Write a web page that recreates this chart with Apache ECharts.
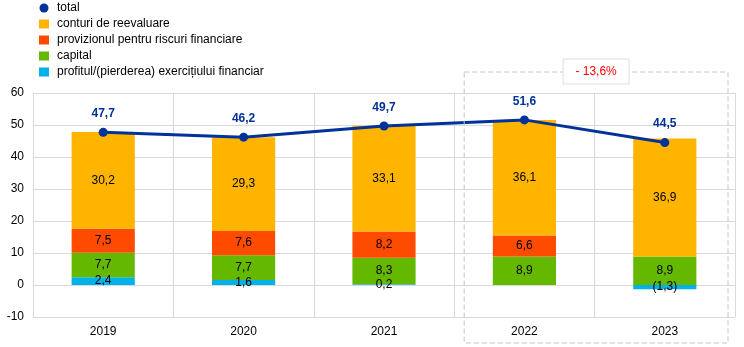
<!DOCTYPE html>
<html>
<head>
<meta charset="utf-8">
<script src="https://cdn.jsdelivr.net/npm/echarts@6/dist/echarts.min.js"></script>
<style>
  html, body { margin: 0; padding: 0; background: #fff; }
  #chart { width: 744px; height: 347px; }
</style>
</head>
<body>
<div id="chart"></div>
<script>
// Categories and series values (EUR billions)
const years = ['2019', '2020', '2021', '2022', '2023'];
const total = [47.7, 46.2, 49.7, 51.6, 44.5];
const revaluation = [30.2, 29.3, 33.1, 36.1, 36.9];
const provisions = [7.5, 7.6, 8.2, 6.6, null];
const capital = [7.7, 7.7, 8.3, 8.9, 8.9];
const profit = [2.4, 1.6, 0.2, null, -1.3];
const changeNote = '- 13,6%';

const FONT = 'Liberation Sans, Arial, sans-serif';

function fmt(v) {
  if (v === null || v === undefined) return '';
  const s = Math.abs(v).toFixed(1).replace('.', ',');
  return v < 0 ? '(' + s + ')' : s;
}

const barLabel = {
  show: true,
  position: 'inside',
  color: '#000',
  fontFamily: FONT,
  fontSize: 12,
  formatter: p => fmt(p.value)
};

function barSeries(name, data, color) {
  return {
    name: name,
    type: 'bar',
    stack: 'total',
    data: data,
    barWidth: '45%',
    itemStyle: { color: color },
    label: barLabel,
    z: 2
  };
}

const chart = echarts.init(document.getElementById('chart'), null, { renderer: 'canvas' });

chart.setOption({
  animation: false,
  textStyle: { fontFamily: FONT },
  legend: {
    orient: 'vertical',
    left: 34,
    top: -3,
    itemWidth: 10,
    itemHeight: 9,
    itemGap: 4,
    textStyle: { fontFamily: FONT, fontSize: 12, color: '#000', lineHeight: 12, padding: [0, 0, 0, 3] },
    data: [
      { name: 'total', icon: 'circle', itemStyle: { color: '#003299' } },
      { name: 'conturi de reevaluare', icon: 'rect' },
      { name: 'provizionul pentru riscuri financiare', icon: 'rect' },
      { name: 'capital', icon: 'rect' },
      { name: 'profitul/(pierderea) exercițiului financiar', icon: 'rect' }
    ]
  },
  grid: { left: 33, right: 9, top: 93, bottom: 30, containLabel: false },
  xAxis: {
    type: 'category',
    data: years,
    boundaryGap: true,
    axisLine: { show: false },
    axisTick: { show: false },
    axisLabel: { color: '#000', fontSize: 12, fontFamily: FONT, margin: 9 },
    splitLine: { show: true, lineStyle: { color: '#d9d9d9', width: 1 } }
  },
  yAxis: {
    type: 'value',
    min: -10,
    max: 60,
    interval: 10,
    axisLine: { show: false },
    axisTick: { show: false },
    axisLabel: { color: '#000', fontSize: 12, fontFamily: FONT, margin: 9 },
    splitLine: { show: true, lineStyle: { color: '#d9d9d9', width: 1 } }
  },
  series: [
    barSeries('profitul/(pierderea) exercițiului financiar', profit, '#00B1EA'),
    barSeries('capital', capital, '#65B800'),
    barSeries('provizionul pentru riscuri financiare', provisions, '#FF4B00'),
    barSeries('conturi de reevaluare', revaluation, '#FFB400'),
    {
      name: 'total',
      type: 'line',
      data: total,
      symbol: 'circle',
      symbolSize: 9,
      lineStyle: { color: '#003299', width: 3 },
      itemStyle: { color: '#003299' },
      label: {
        show: true,
        position: 'top',
        distance: 8,
        color: '#003299',
        fontWeight: 'bold',
        fontFamily: FONT,
        fontSize: 12,
        formatter: p => fmt(p.value)
      },
      z: 5
    }
  ]
});

// Dashed frame around the last two years with the change annotation
const c3 = chart.convertToPixel({ xAxisIndex: 0 }, 3);
const c4 = chart.convertToPixel({ xAxisIndex: 0 }, 4);
const band = c4 - c3;
const boxLeft = c3 - band / 2 + 10;
const boxRight = c4 + band / 2 - 7;
const boxTop = 72;
const boxBottom = 343;
const noteW = 66, noteH = 25;
const noteX = (boxLeft + boxRight) / 2 - noteW / 2;

chart.setOption({
  graphic: [
    {
      type: 'rect',
      shape: { x: boxLeft, y: boxTop, width: boxRight - boxLeft, height: boxBottom - boxTop },
      style: { fill: 'none', stroke: '#c4c4c4', lineWidth: 1, lineDash: [5, 3] },
      z: 10
    },
    {
      type: 'rect',
      shape: { x: noteX, y: boxTop - 13, width: noteW, height: noteH },
      style: { fill: '#fff', stroke: '#dedede', lineWidth: 1 },
      z: 11
    },
    {
      type: 'text',
      x: noteX + noteW / 2,
      y: boxTop - 13 + noteH / 2,
      style: {
        text: changeNote,
        fill: '#FF0000',
        font: '12px ' + FONT,
        align: 'center',
        verticalAlign: 'middle'
      },
      z: 12
    }
  ]
});
</script>
</body>
</html>
